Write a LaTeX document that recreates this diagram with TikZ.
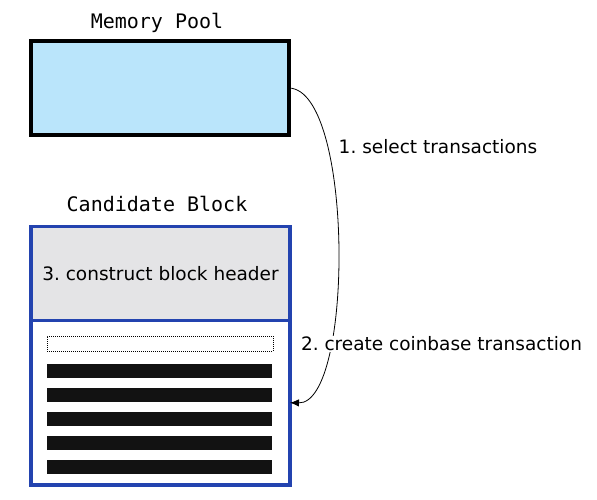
\documentclass[tikz,border=0pt]{standalone}
\usepackage{fontspec}
\setmainfont{DejaVu Sans}
\setmonofont{DejaVu Sans Mono}
\usetikzlibrary{positioning,arrows.meta}
\definecolor{poolblue}{RGB}{186,229,251}
\definecolor{blockblue}{RGB}{35,67,175}
\definecolor{headgray}{RGB}{228,228,230}
\frenchspacing
\begin{document}
\begin{tikzpicture}[x=1pt,y=-1pt,
  every node/.style={inner sep=0pt,outer sep=0pt},
  title/.style={font=\fontsize{20}{24}\selectfont\ttfamily,anchor=base},
  steplabel/.style={font=\fontsize{18.5}{22}\selectfont,fill=white,inner sep=1pt},
  part/.style={draw=blockblue,line width=3.5pt,minimum width=259pt},
  bar/.style={fill=black!93,minimum width=225pt,minimum height=14pt}]
\useasboundingbox (0,0) rectangle (597,499);
% memory pool
\node[draw,line width=4pt,fill=poolblue,minimum width=258pt,minimum height=94pt] (pool) at (160,88) {};
\node[title] (pooltitle) at (157,28) {Memory Pool};
% candidate block
\node[part,fill=headgray,minimum height=94pt] (header) at (160.5,273.5) {};
\node[steplabel,fill=none] (headertext) at (header.center) {3. construct block header};
\node[part,fill=white,minimum height=164.5pt,below=0pt of header] (body) {};
\node[title] (blocktitle) at (157,211) {Candidate Block};
\node[draw,line width=0.8pt,dash pattern=on 1pt off 1pt,minimum width=226pt,minimum height=15pt] (coinbase) at (160,343.5) {};
\foreach \i in {0,...,4}
  \node[bar] (tx\i) at (159.8,370.5+24*\i) {};
% steps
\node[steplabel] (select) at (438,147) {1. select transactions};
\draw[line width=0.8pt,-{Latex[length=9pt,width=7.5pt]}] (pool.east) .. controls (354,90) and (354,404) .. (body.east);
\node[steplabel] (create) at (441.5,344) {2. create coinbase transaction};
\end{tikzpicture}
\end{document}
